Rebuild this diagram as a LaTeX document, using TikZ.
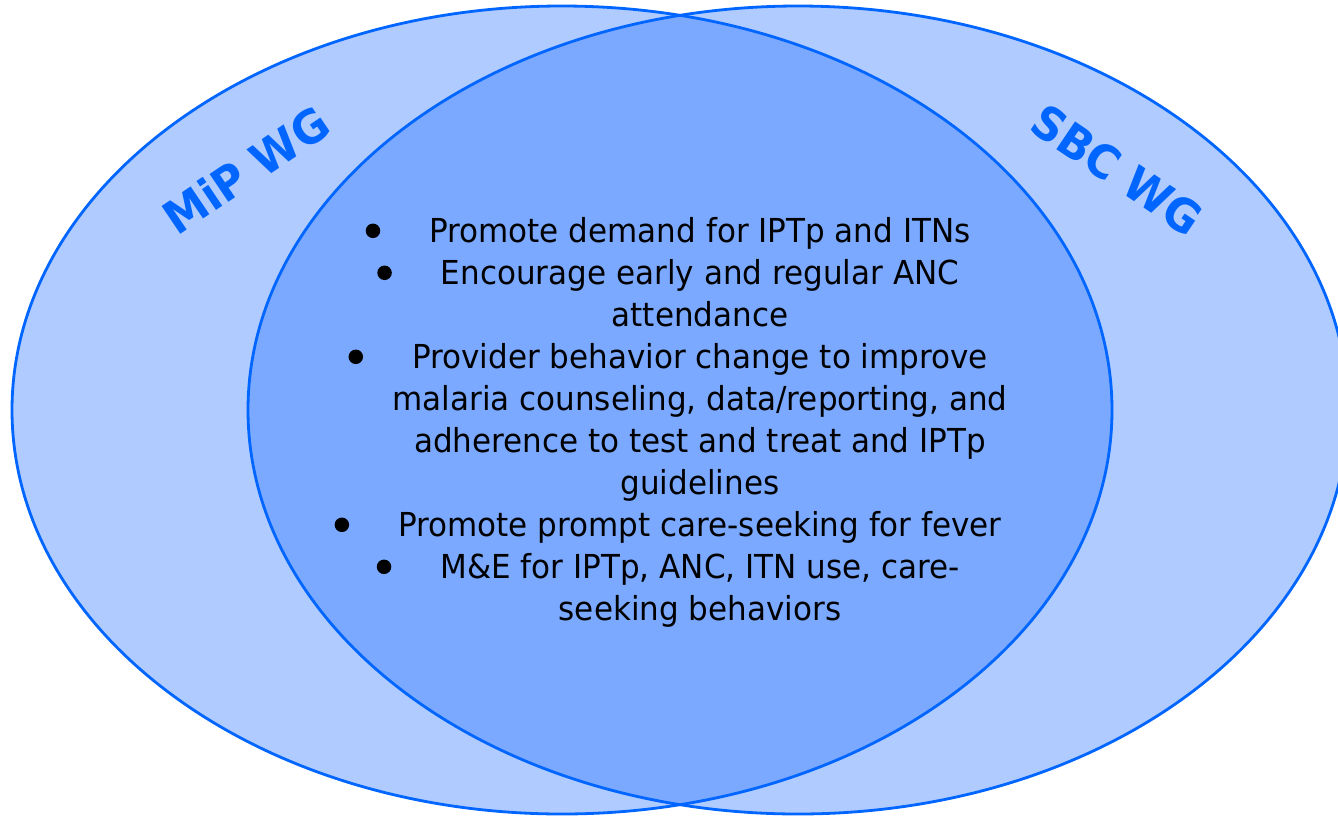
\documentclass[tikz,border=0pt]{standalone}
\usepackage{fontspec}
\setmainfont{DejaVu Sans}[FakeStretch=0.94]
\usetikzlibrary{positioning, calc}
\definecolor{wgblue}{RGB}{0, 102, 255}
\definecolor{outerfill}{RGB}{175, 203, 255}
\definecolor{innerfill}{RGB}{122, 169, 255}

\begin{document}
\begin{tikzpicture}[
    x=1pt, y=-1pt,
    line/.style={inner sep=0pt, text height=29pt, text depth=12.6pt, font=\fontsize{33}{40}\selectfont},
    dot/.style={circle, fill=black, inner sep=0pt, minimum size=14.5pt},
    wglabel/.style={font=\fontsize{46}{55}\selectfont\bfseries, text=wgblue},
    wgring/.style={draw=wgblue, line width=2.8pt}
]
\useasboundingbox (0,0) rectangle (1338,815);

% Ellipses
\coordinate (mipc) at (562,410);
\coordinate (sbcc) at (798,410);
\fill[outerfill] (mipc) ellipse [x radius=550, y radius=404];
\fill[outerfill] (sbcc) ellipse [x radius=550, y radius=404];
\begin{scope}
    \clip (mipc) ellipse [x radius=550, y radius=404];
    \fill[innerfill] (sbcc) ellipse [x radius=550, y radius=404];
\end{scope}
\draw[wgring] (mipc) ellipse [x radius=550, y radius=404];
\draw[wgring] (sbcc) ellipse [x radius=550, y radius=404];

% Group labels
\node[wglabel, rotate=34] (mip) at (246,170) {MiP WG};
\node[wglabel, rotate=-34] (sbc) at (1117,170) {SBC WG};

% Shared activities
\node[line, anchor=base] (l1) at (700,242) {Promote demand for IPTp and ITNs};
\node[line, below=0pt of l1] (l2) {Encourage early and regular ANC};
\node[line, below=0pt of l2] (l3) {attendance};
\node[line, below=0pt of l3] (l4) {Provider behavior change to improve};
\node[line, below=0pt of l4] (l5) {malaria counseling, data/reporting, and};
\node[line, below=0pt of l5] (l6) {adherence to test and treat and IPTp};
\node[line, below=0pt of l6] (l7) {guidelines};
\node[line, below=0pt of l7] (l8) {Promote prompt care-seeking for fever};
\node[line, below=0pt of l8] (l9) {M\&E for IPTp, ANC, ITN use, care-};
\node[line, below=0pt of l9] (l10) {seeking behaviors};

% Bullets
\node[dot, left=48.75pt of l1.west, yshift=3pt] (b1) {};
\node[dot, left=48.75pt of l2.west, yshift=3pt] (b2) {};
\node[dot, left=48.75pt of l4.west, yshift=3pt] (b3) {};
\node[dot, left=48.75pt of l8.west, yshift=3pt] (b4) {};
\node[dot, left=48.75pt of l9.west, yshift=3pt] (b5) {};

\end{tikzpicture}
\end{document}
